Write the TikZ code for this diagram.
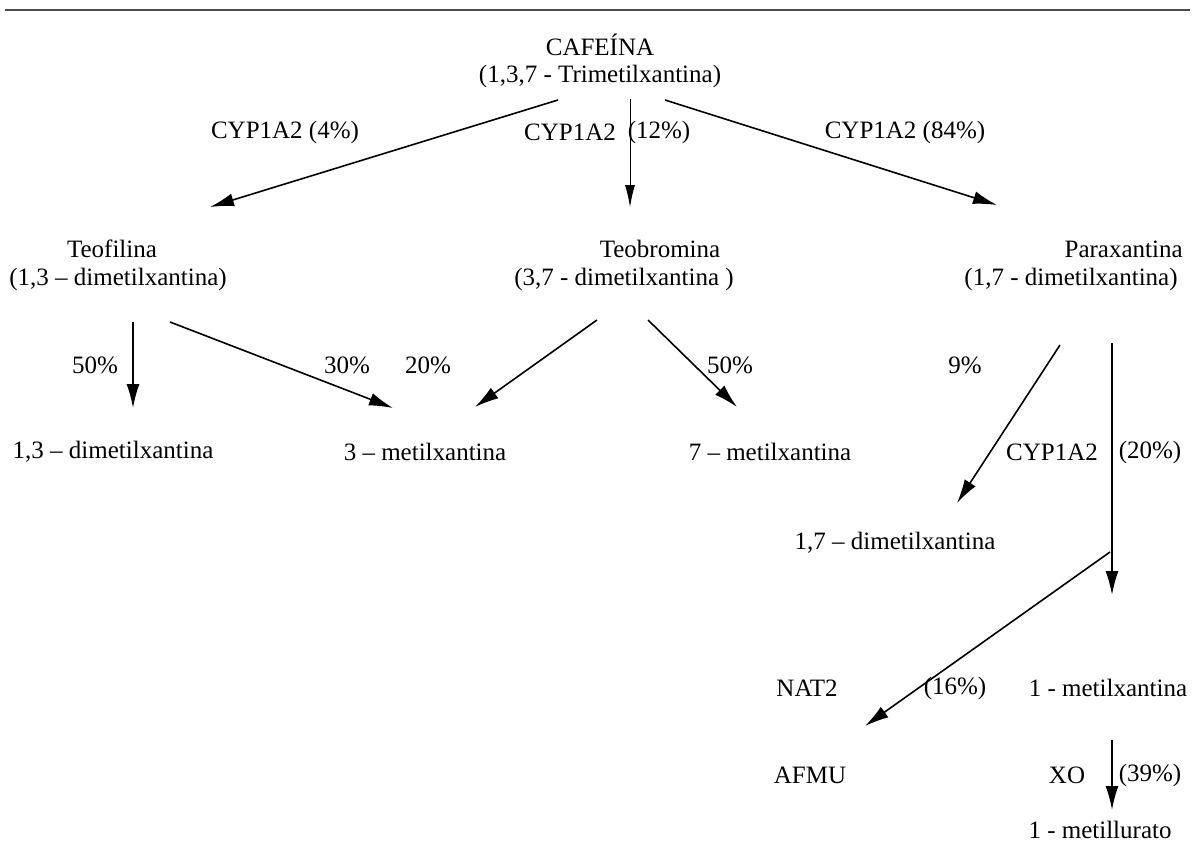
\documentclass[tikz,border=0pt]{standalone}
\usepackage{fontspec}
\setmainfont{Liberation Serif}
\usetikzlibrary{arrows.meta}
\begin{document}
\begin{tikzpicture}[x=0.5pt,y=-0.5pt,
  lbl/.style={inner sep=0pt,font=\fontsize{12.5}{15}\selectfont},
  arr/.style={line width=0.8pt,-{Latex[length=12pt,width=6.5pt]}},
  thinarr/.style={line width=0.45pt,-{Latex[length=11pt,width=5pt]}}]
\useasboundingbox (0,0) rectangle (1195,858);
\draw[line width=1pt,black!70] (5,10) -- (1190,10);
% top
\node[lbl] (caf) at (600,45) {CAFEÍNA};
\node[lbl] (cafb) at (600,76) {(1,3,7 - Trimetilxantina)};
% level 2
\node[lbl] (teof) at (112,249) {Teofilina};
\node[lbl] (teofb) at (118,279) {(1,3 – dimetilxantina)};
\node[lbl] (teob) at (660,249) {Teobromina};
\node[lbl] (teobb) at (624,279) {(3,7 - dimetilxantina )};
\node[lbl,anchor=east] (para) at (1183,249) {Paraxantina};
\node[lbl,anchor=east] (parab) at (1178,279) {(1,7 - dimetilxantina)};
% level 3
\node[lbl] (d13) at (113,452) {1,3 – dimetilxantina};
\node[lbl] (m3) at (425,452) {3 – metilxantina};
\node[lbl] (m7) at (770,452) {7 – metilxantina};
\node[lbl] (d17) at (895,543) {1,7 – dimetilxantina};
\node[lbl] (m1) at (1108,688) {1 - metilxantina};
\node[lbl] (afmu) at (810,775) {AFMU};
\node[lbl] (mu1) at (1100,830) {1 - metillurato};
% enzyme labels
\node[lbl] (l4) at (285,132) {CYP1A2 (4\%)};
\node[lbl] (l12a) at (570,132) {CYP1A2};
\node[lbl] (l12b) at (659,132) {(12\%)};
\node[lbl] (l84) at (905,132) {CYP1A2 (84\%)};
\node[lbl] (p50a) at (95,365) {50\%};
\node[lbl] (p30) at (347,365) {30\%};
\node[lbl] (p20) at (428,365) {20\%};
\node[lbl] (p50b) at (730,365) {50\%};
\node[lbl] (p9) at (965,365) {9\%};
\node[lbl] (c20a) at (1052,452) {CYP1A2};
\node[lbl] (c20b) at (1150,452) {(20\%)};
\node[lbl] (nat) at (807,688) {NAT2};
\node[lbl] (p16) at (955,688) {(16\%)};
\node[lbl] (xo) at (1067,775) {XO};
\node[lbl] (p39) at (1150,775) {(39\%)};
% arrow ends
\coordinate (a1s) at (558,100); \coordinate (a1e) at (210,207);
\coordinate (a2s) at (630,99);  \coordinate (a2e) at (630,207);
\coordinate (a3s) at (665,100); \coordinate (a3e) at (997,205);
\coordinate (b1s) at (133,322); \coordinate (b1e) at (133,408);
\coordinate (b2s) at (170,322); \coordinate (b2e) at (393,408);
\coordinate (b3s) at (597,320); \coordinate (b3e) at (475,407);
\coordinate (b4s) at (648,320); \coordinate (b4e) at (737,407);
\coordinate (c1s) at (1060,345); \coordinate (c1e) at (957,503);
\coordinate (c2s) at (1112,343); \coordinate (c2e) at (1112,595);
\coordinate (d1s) at (1110,552); \coordinate (d1e) at (865,726);
\coordinate (e1s) at (1112,740); \coordinate (e1e) at (1112,810);
\draw[arr] (a1s) -- (a1e);
\draw[thinarr] (a2s) -- (a2e);
\draw[arr] (a3s) -- (a3e);
\draw[arr] (b1s) -- (b1e);
\draw[arr] (b2s) -- (b2e);
\draw[arr] (b3s) -- (b3e);
\draw[arr] (b4s) -- (b4e);
\draw[arr] (c1s) -- (c1e);
\draw[arr] (c2s) -- (c2e);
\draw[arr] (d1s) -- (d1e);
\draw[arr] (e1s) -- (e1e);
\end{tikzpicture}
\end{document}
